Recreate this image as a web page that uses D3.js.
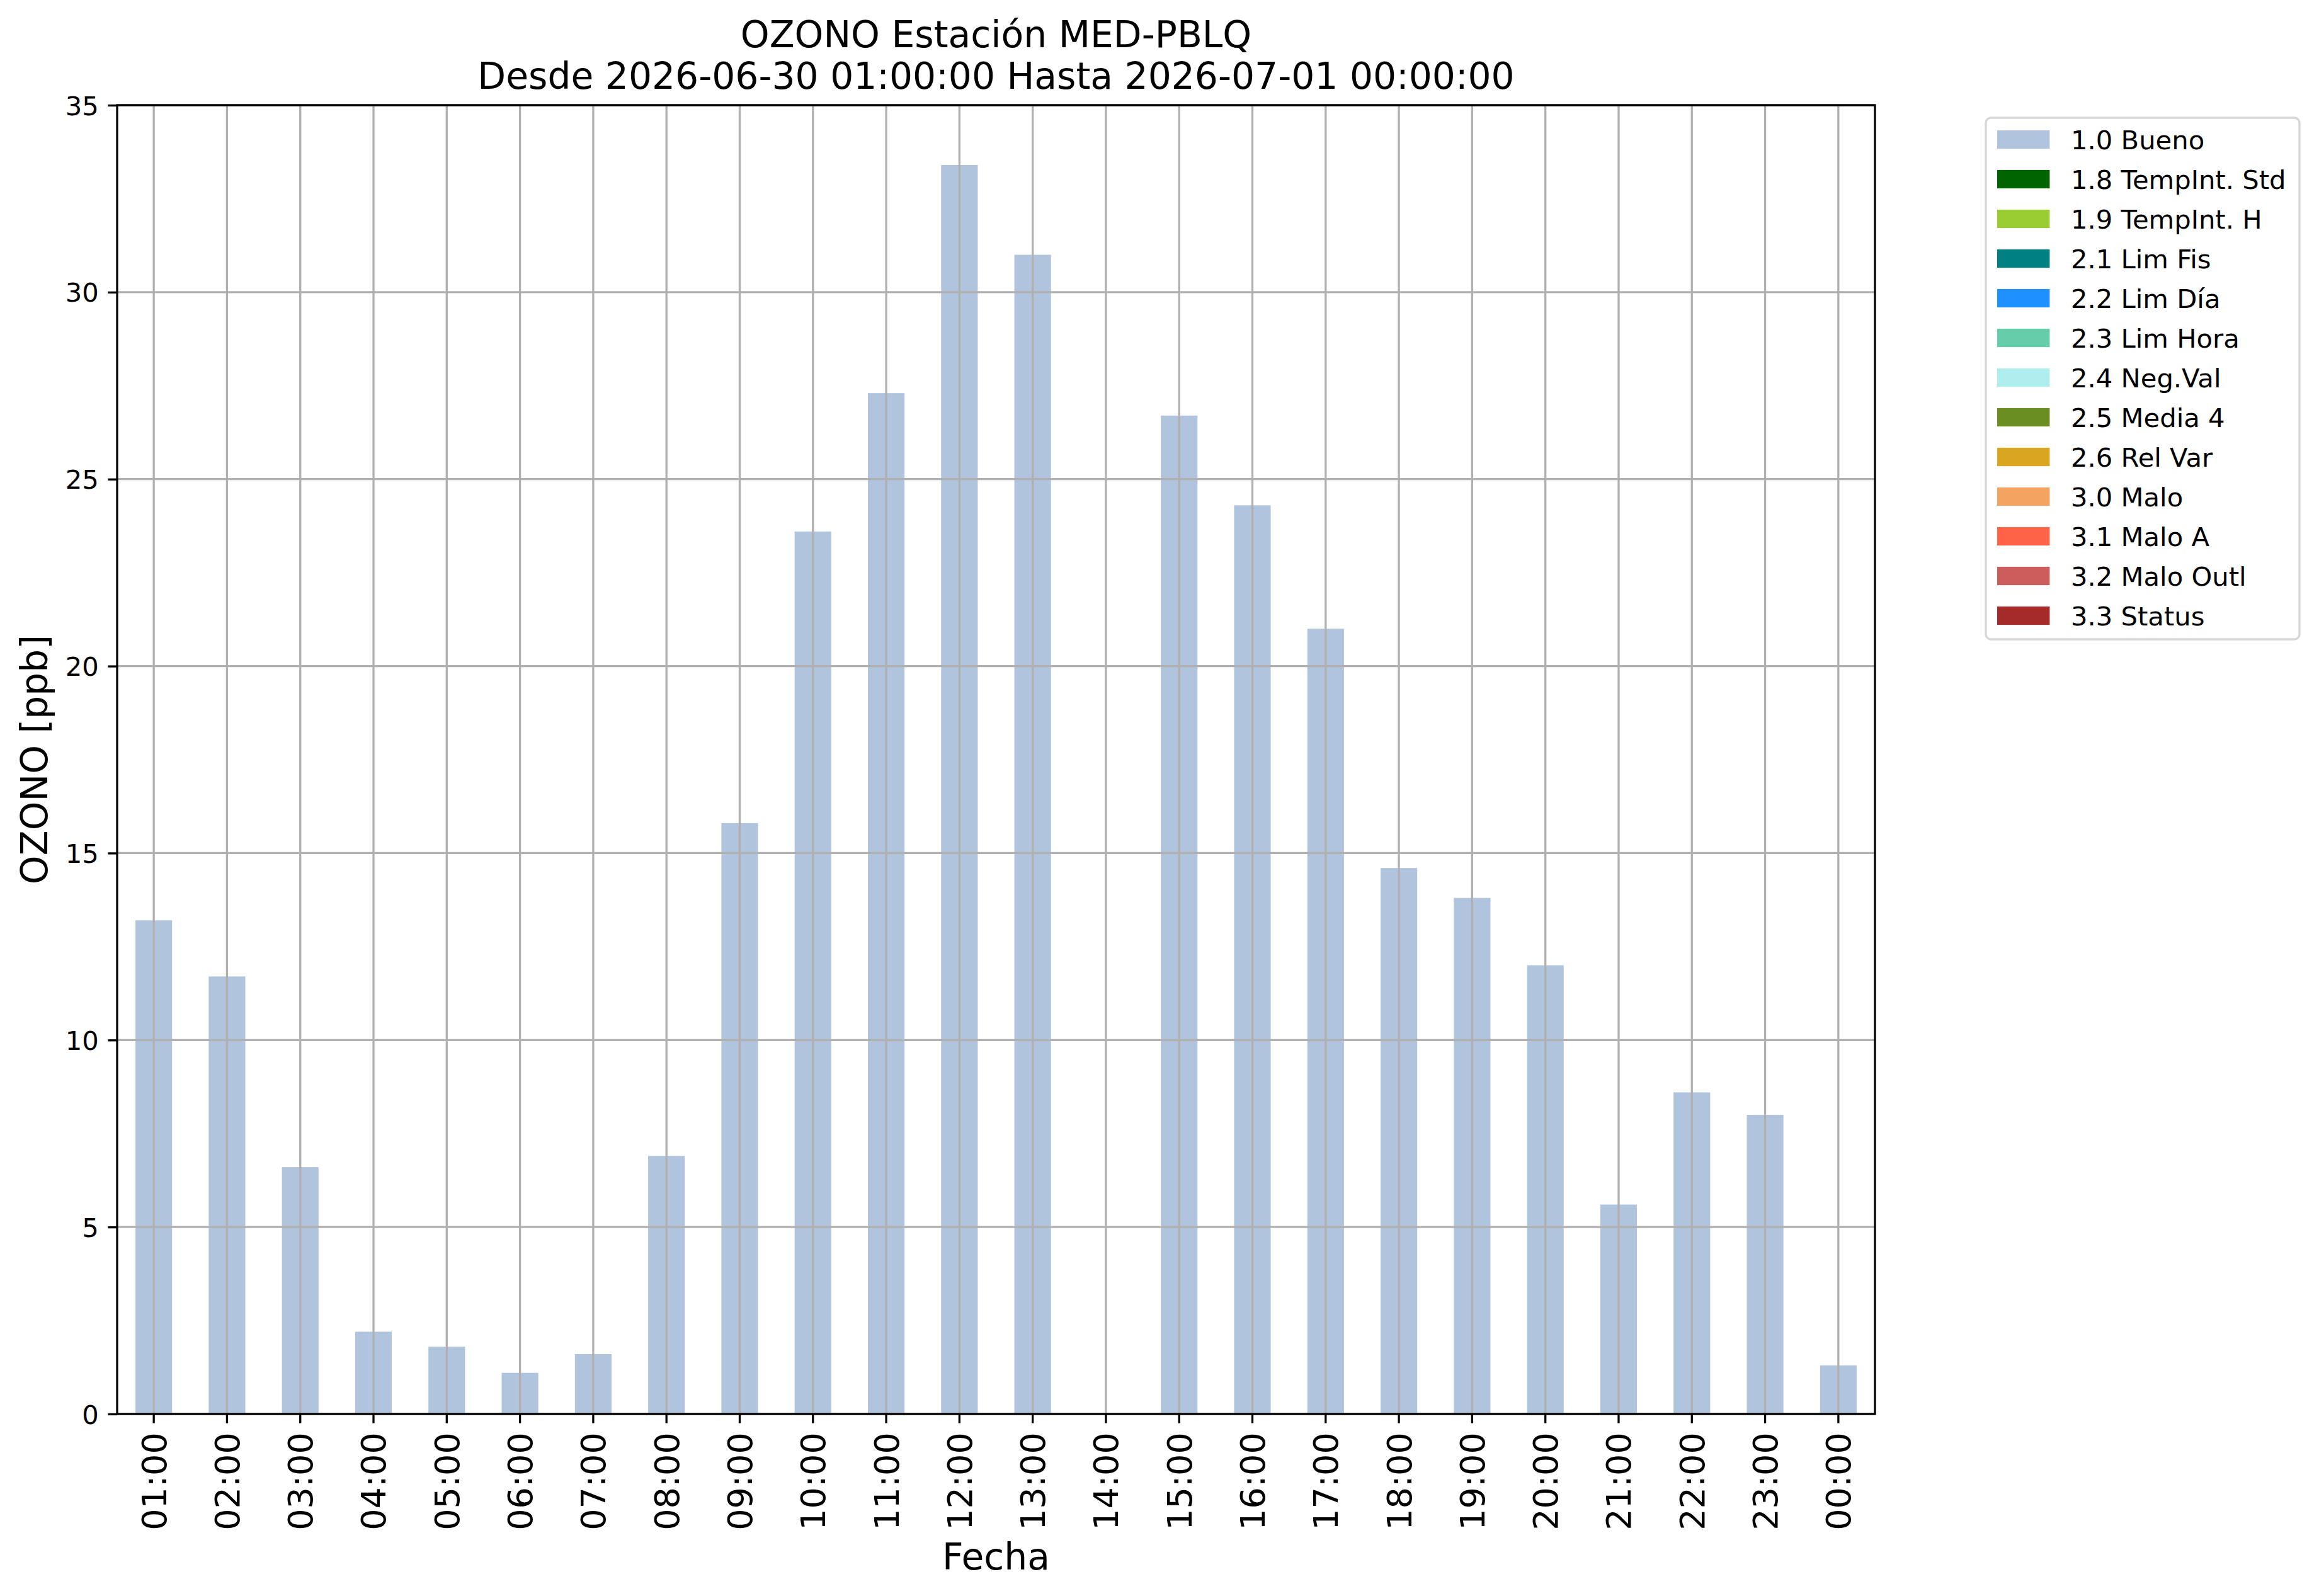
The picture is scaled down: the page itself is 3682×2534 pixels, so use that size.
<!DOCTYPE html>
<html>
<head>
<meta charset="utf-8">
<script src="https://cdn.jsdelivr.net/npm/d3@7"></script>
<style>
  body { margin: 0; background: #fff; }
  svg { display: block; font-family: "DejaVu Sans", sans-serif; }
</style>
</head>
<body>
<svg id="chart" width="3682" height="2534"></svg>
<script>
// hourly ozone values (ppb), 14:00 has no data
const hours = ["01:00", "02:00", "03:00", "04:00", "05:00", "06:00", "07:00", "08:00",
    "09:00", "10:00", "11:00", "12:00", "13:00", "14:00", "15:00", "16:00",
    "17:00", "18:00", "19:00", "20:00", "21:00", "22:00", "23:00", "00:00"]
const ozone = [13.2, 11.7, 6.6, 2.2, 1.8, 1.1, 1.6, 6.9,
    15.8, 23.6, 27.3, 33.4, 31.0, null, 26.7, 24.3,
    21.0, 14.6, 13.8, 12.0, 5.6, 8.6, 8.0, 1.3]
const yTicks = [0, 5, 10, 15, 20, 25, 30, 35]

// quality flags shown in the legend
const flagLabels = ["1.0 Bueno", "1.8 TempInt. Std", "1.9 TempInt. H", "2.1 Lim Fis",
    "2.2 Lim Día", "2.3 Lim Hora", "2.4 Neg.Val", "2.5 Media 4", "2.6 Rel Var",
    "3.0 Malo", "3.1 Malo A", "3.2 Malo Outl", "3.3 Status"]
const flagColors = ["#b0c4de", "#006400", "#9acd32", "#008080", "#1e90ff", "#66cdaa",
    "#afeeee", "#6b8e23", "#daa520", "#f4a460", "#ff6347", "#cd5c5c", "#a52a2a"]

const titleLines = ["OZONO Estación MED-PBLQ",
    "Desde 2026-06-30 01:00:00 Hasta 2026-07-01 00:00:00"]

const plot = { left: 186, right: 2977, top: 167, bottom: 2245 }
const lw = 3.3
const tickLen = 14.6
const gridColor = "#b0b0b0"

const svg = d3.select("#chart")

const x = d3.scaleBand()
    .domain(hours)
    .range([plot.left, plot.right])
    .paddingInner(0.5)
    .paddingOuter(0.25)

const y = d3.scaleLinear()
    .domain([0, 35])
    .range([plot.bottom, plot.top])

// bars
svg.append("g")
    .selectAll("rect")
    .data(hours.map((h, i) => ({ hour: h, value: ozone[i] })).filter(d => d.value != null))
    .join("rect")
    .attr("x", d => x(d.hour))
    .attr("width", x.bandwidth())
    .attr("y", d => y(d.value))
    .attr("height", d => y(0) - y(d.value))
    .attr("fill", flagColors[0])

// grid on top of bars, like the original
const grid = svg.append("g")
grid.selectAll("line.v")
    .data(hours)
    .join("line")
    .attr("class", "v")
    .attr("x1", d => x(d) + x.bandwidth() / 2)
    .attr("x2", d => x(d) + x.bandwidth() / 2)
    .attr("y1", plot.top)
    .attr("y2", plot.bottom)
    .attr("stroke", gridColor)
    .attr("stroke-width", lw)
grid.selectAll("line.h")
    .data(yTicks)
    .join("line")
    .attr("class", "h")
    .attr("x1", plot.left)
    .attr("x2", plot.right)
    .attr("y1", d => y(d))
    .attr("y2", d => y(d))
    .attr("stroke", gridColor)
    .attr("stroke-width", lw)

// x axis
const xAxis = svg.append("g")
    .attr("transform", `translate(0,${plot.bottom})`)
    .call(d3.axisBottom(x).tickSize(tickLen).tickSizeOuter(0))
xAxis.select(".domain").remove()
xAxis.selectAll(".tick line").attr("stroke", "#000").attr("stroke-width", lw)
xAxis.selectAll(".tick text")
    .attr("font-family", "DejaVu Sans")
    .attr("font-size", 54)
    .attr("fill", "#000")
    .attr("transform", "rotate(-90)")
    .attr("text-anchor", "end")
    .attr("x", -(tickLen + 14.6))
    .attr("y", 0)
    .attr("dy", "0.36em")

// y axis
const yAxis = svg.append("g")
    .attr("transform", `translate(${plot.left},0)`)
    .call(d3.axisLeft(y).tickValues(yTicks).tickSize(tickLen).tickSizeOuter(0).tickPadding(14.6))
yAxis.select(".domain").remove()
yAxis.selectAll(".tick line").attr("stroke", "#000").attr("stroke-width", lw)
yAxis.selectAll(".tick text")
    .attr("font-family", "DejaVu Sans")
    .attr("font-size", 41.7)
    .attr("fill", "#000")
    .attr("dy", "0.36em")

// spines
svg.append("rect")
    .attr("x", plot.left)
    .attr("y", plot.top)
    .attr("width", plot.right - plot.left)
    .attr("height", plot.bottom - plot.top)
    .attr("fill", "none")
    .attr("stroke", "#000")
    .attr("stroke-width", lw)

// title and axis labels
const cx = (plot.left + plot.right) / 2
svg.append("g")
    .selectAll("text")
    .data(titleLines)
    .join("text")
    .attr("x", cx)
    .attr("y", (d, i) => 75 + i * 66)
    .attr("text-anchor", "middle")
    .attr("font-size", 58.3)
    .text(d => d)

svg.append("text")
    .attr("x", cx)
    .attr("y", 2492)
    .attr("text-anchor", "middle")
    .attr("font-size", 58.3)
    .text("Fecha")

svg.append("text")
    .attr("transform", `translate(75,${(plot.top + plot.bottom) / 2}) rotate(-90)`)
    .attr("text-anchor", "middle")
    .attr("font-size", 58.3)
    .text("OZONO [ppb]")

// legend
const legend = svg.append("g")
legend.append("rect")
    .attr("x", 3153)
    .attr("y", 187)
    .attr("width", 498)
    .attr("height", 828)
    .attr("rx", 8)
    .attr("fill", "#fff")
    .attr("stroke", "#d6d6d6")
    .attr("stroke-width", lw)

const row = d3.scaleBand()
    .domain(flagLabels)
    .range([190, 190 + 63 * flagLabels.length])

const items = legend.selectAll("g.item")
    .data(flagLabels)
    .join("g")
    .attr("class", "item")
    .attr("transform", d => `translate(0,${row(d) + 31.5})`)
items.append("rect")
    .attr("x", 3171)
    .attr("y", -14.6)
    .attr("width", 83.4)
    .attr("height", 29.2)
    .attr("fill", (d, i) => flagColors[i])
items.append("text")
    .attr("x", 3288)
    .attr("dy", "0.36em")
    .attr("font-size", 41.7)
    .text(d => d)
</script>
</body>
</html>
